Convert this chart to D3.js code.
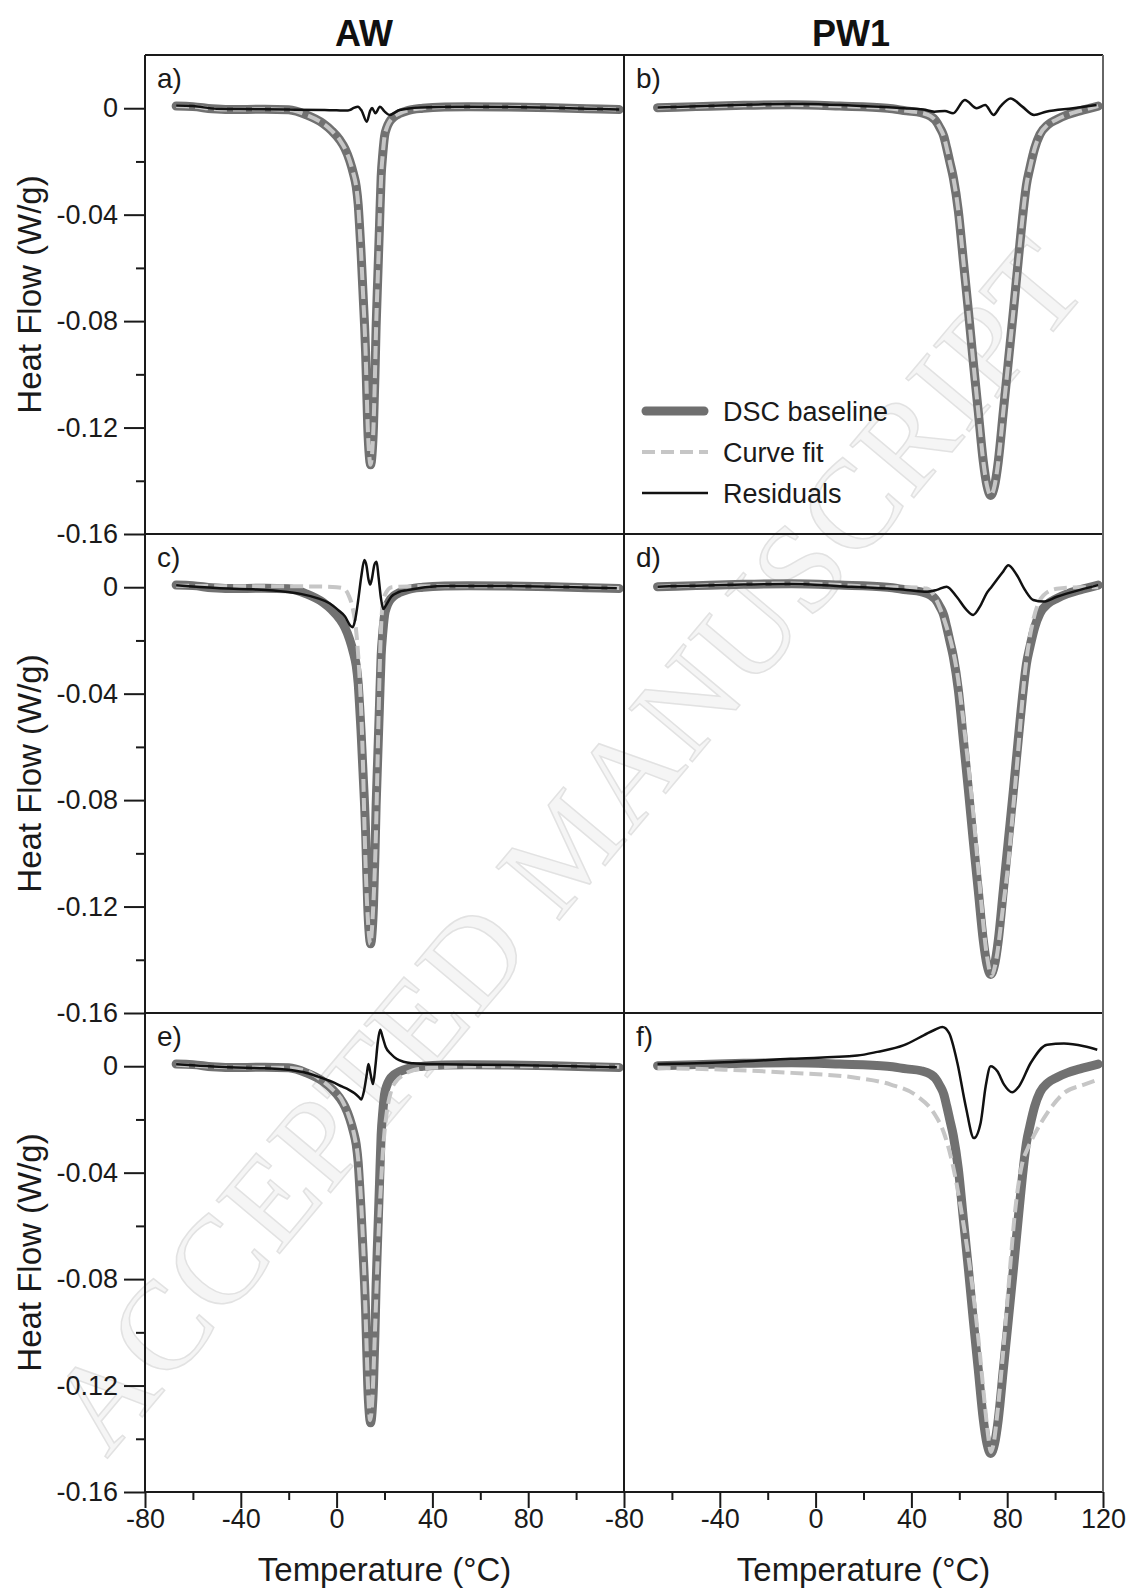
<!DOCTYPE html>
<html>
<head>
<meta charset="utf-8">
<script src="https://cdn.jsdelivr.net/npm/d3@7"></script>
<style>
body { margin: 0; background: #fff; }
svg { display: block; font-family: "Liberation Sans", Arial, sans-serif; }
.tick line { stroke: #1a1a1a; stroke-width: 2; }
.tick text { font-size: 27px; fill: #1a1a1a; }
</style>
</head>
<body>
<div id="chart"></div>
<script>
// ---- AW (left column) ----
// DSC baseline, the same measurement in a), c) and e)
var awTemp = [-67, -60, -52, -45, -30, -20, -12.6, -5.7, -2, 1.3, 3.5, 5.4, 7, 8.2, 9, 9.6, 10.2, 10.7, 11.2, 11.7,
    12.1, 12.4, 13.0, 13.6, 14.2, 14.8, 15.4, 16.0, 16.5, 17.2, 17.9, 18.6, 19.3, 20.0, 21, 22.1, 24, 26.3, 30, 36,
    45, 55, 70, 90, 110, 118];
var awBaseline = [0.0008, 0.0006, -0.0002, -0.0005, -0.0004, -0.0006, -0.0025, -0.0057, -0.0085, -0.0119,
    -0.0152, -0.0195, -0.0245, -0.0295, -0.0360, -0.0445, -0.0540, -0.0633, -0.0727, -0.0821,
    -0.0915, -0.1009, -0.1197, -0.1300, -0.1340, -0.1300, -0.1197, -0.1009, -0.0821, -0.0633,
    -0.0445, -0.0257, -0.0170, -0.0107, -0.0072, -0.0051, -0.0032, -0.0020, -0.0008, 0.0000,
    0.0005, 0.0006, 0.0005, 0.0002, -0.0003, -0.0005];

// a) the fit lies right on the baseline
var fitA = awBaseline.slice();
var resATemp = [-67, -60, -50, -40, -20, -5, 0, 4, 5.4, 7, 8.9, 10.5, 12.6, 14.0, 14.8, 16.2, 18.1, 20, 22.1, 26.3,
    35, 50, 70, 90, 110, 118];
var resA = [0.0010, 0.0008, -0.0002, -0.0003, -0.0005, -0.0007, -0.0008, -0.0009, -0.0007, 0.0000,
    0.0006, -0.0010, -0.0051, -0.0010, 0.0001, -0.0019, 0.0006, -0.0012, -0.0025, -0.0007,
    0.0003, 0.0006, 0.0005, 0.0002, -0.0003, -0.0005];

// c)
var fitCTemp = [-67, -50, -30, -10, 0, 3, 5, 6.5, 8, 9.2, 10.2, 11.0, 11.7, 12.4, 13.2, 14.1, 14.8, 15.4, 16.0, 16.5,
    17.0, 17.6, 18.2, 18.8, 19.5, 21, 23, 30, 60, 90, 118];
var fitC = [0.0006, 0.0004, 0.0004, 0.0003, 0.0000, -0.0005, -0.0030, -0.0070, -0.0150, -0.0280,
    -0.0450, -0.0660, -0.0920, -0.1120, -0.1270, -0.1340, -0.1280, -0.1180, -0.1050, -0.0900,
    -0.0700, -0.0450, -0.0240, -0.0110, -0.0050, -0.0015, 0.0000, 0.0003, 0.0004, 0.0002, -0.0003];
var resCTemp = [-67, -50, -35, -21.4, -15, -7.8, -3, 0.7, 3.5, 5.8, 6.8, 7.8, 9.0, 10.3, 11.6, 12.5, 13.3, 14.0, 14.7,
    15.8, 16.7, 17.5, 18.5, 19.5, 20.5, 22.8, 26, 29.6, 37, 46.7, 70, 90, 117];
var resC = [0.0007, -0.0003, -0.0008, -0.0017, -0.0025, -0.0042, -0.0060, -0.0086, -0.0110, -0.0145,
    -0.0150, -0.0120, -0.0050, 0.0040, 0.0102, 0.0080, 0.0030, 0.0010, 0.0030, 0.0085,
    0.0096, 0.0040, -0.0040, -0.0082, -0.0070, -0.0036, -0.0018, -0.0011, 0.0000, 0.0005,
    0.0005, 0.0002, -0.0004];

// e)
var fitETemp = [-67, -45, -21, -12, -6, -2, 2.4, 5, 7.5, 9, 10.3, 11.3, 12.2, 13.0, 14.0, 15.0, 15.8, 16.5, 17.3, 18.2,
    19.5, 21, 22.8, 25, 27.9, 32, 38, 60, 90, 118];
var fitE = [0.0006, -0.0004, -0.0006, -0.0020, -0.0055, -0.0085, -0.0130, -0.0185, -0.0265, -0.0350,
    -0.0520, -0.0720, -0.0960, -0.1180, -0.1330, -0.1240, -0.1050, -0.0880, -0.0680, -0.0500,
    -0.0300, -0.0170, -0.0092, -0.0055, -0.0033, -0.0015, -0.0007, 0.0000, 0.0000, -0.0002];
var resETemp = [-67, -45, -30, -21.4, -14, -7.8, -2, 2.4, 5, 7.5, 9.3, 10.3, 11.5, 12.6, 13.3, 14.2, 15.2, 16.2, 17.2,
    18.2, 19.2, 20.5, 22.8, 25, 27.9, 32, 38.2, 60, 90, 117];
var resE = [0.0007, -0.0004, -0.0008, -0.0012, -0.0022, -0.0039, -0.0058, -0.0077, -0.0088, -0.0102,
    -0.0116, -0.0125, -0.0090, -0.0030, 0.0008, -0.0030, -0.0067, 0.0000, 0.0090, 0.0137,
    0.0110, 0.0072, 0.0045, 0.0028, 0.0017, 0.0011, 0.0008, 0.0006, 0.0002, -0.0004];

// ---- PW1 (right column) ----
var pwTemp = [-66, -50, -30, -10, 10, 30, 38, 44, 48, 50, 52, 53.5, 54.7, 56, 57.5, 59.6, 61.7, 63.8, 65.8, 67.9,
    70.0, 71.6, 73.1, 74.7, 76.3, 78.4, 80.5, 82.6, 84.6, 86.7, 88, 89.5, 91.5, 93.7, 97, 100.7, 105, 110.4, 118];
var pwBaseline = [0.0002, 0.0006, 0.0011, 0.0013, 0.0008, 0.0000, -0.0010, -0.0017, -0.0030, -0.0045,
    -0.0075, -0.0105, -0.0148, -0.0200, -0.0261, -0.0386, -0.0574, -0.0762, -0.0950, -0.1138,
    -0.1326, -0.1420, -0.1455, -0.1420, -0.1326, -0.1138, -0.0950, -0.0762, -0.0574, -0.0386,
    -0.0290, -0.0224, -0.0150, -0.0098, -0.0062, -0.0042, -0.0025, -0.0010, 0.0008];

// b)
var fitB = pwBaseline.slice();
var resBTemp = [-66, -40, -20, -5.4, 15, 36.9, 45, 49.6, 54, 57.4, 62.3, 67.3, 70.8, 74.3, 77.1, 81.4, 86.3, 91.2,
    96.2, 107.5, 117.3];
var resB = [0.0003, 0.0010, 0.0015, 0.0016, 0.0010, 0.0000, -0.0005, -0.0013, -0.0010, -0.0019,
    0.0031, 0.0000, 0.0012, -0.0025, 0.0006, 0.0037, 0.0006, -0.0025, -0.0013, 0.0000, 0.0012];

// d)
var fitDTemp = [-66, -50, -30, -10, 10, 30, 38, 46.4, 50, 52, 54.7, 56.9, 58.9, 61, 63.1, 65.8, 68.6, 71.4, 73.5, 75.6,
    78, 80.5, 82.3, 84, 85.8, 87.4, 89.2, 90.9, 95.1, 100.7, 110.4, 118];
var fitD = [0.0002, 0.0006, 0.0012, 0.0014, 0.0008, 0.0000, 0.0000, -0.0005, -0.0040, -0.0080,
    -0.0150, -0.0220, -0.0310, -0.0450, -0.0614, -0.0846, -0.1127, -0.1377, -0.1460, -0.1390,
    -0.1220, -0.1033, -0.0850, -0.0676, -0.0480, -0.0320, -0.0200, -0.0122, -0.0031, -0.0006,
    0.0000, 0.0000];
var resDTemp = [-66, -50, -30, -10, 10, 30, 38, 46.4, 50.6, 54.7, 58.9, 63.1, 65.8, 68.6, 71.4, 73.5, 75.6, 78, 80.5,
    84, 87.4, 90.9, 95.1, 100.7, 110.4, 118];
var resD = [0.0002, 0.0006, 0.0010, 0.0012, 0.0004, -0.0005, -0.0010, -0.0017, -0.0010, 0.0002,
    -0.0036, -0.0086, -0.0104, -0.0073, -0.0023, 0.0002, 0.0027, 0.0055, 0.0083, 0.0046,
    -0.0010, -0.0048, -0.0054, -0.0036, -0.0010, 0.0008];

// f)
var fitFTemp = [-66, -38, -10, 17.4, 31.4, 42.5, 49.4, 53.6, 57.1, 61.0, 65.1, 68.3, 71.0, 72.2, 73.2, 74.3, 75.9,
    78.5, 80.8, 83.2, 86.3, 88.5, 91.2, 96.7, 103.7, 112.1, 117.6];
var fitF = [-0.0007, -0.0013, -0.0025, -0.0044, -0.0069, -0.0113, -0.0176, -0.0251, -0.0364, -0.0552,
    -0.0802, -0.1053, -0.1303, -0.1400, -0.1450, -0.1420, -0.1303, -0.1053, -0.0802, -0.0552,
    -0.0364, -0.0310, -0.0260, -0.0176, -0.0101, -0.0069, -0.0051];
var resFTemp = [-66, -38.2, -10.4, 17.4, 25.8, 36.9, 45.3, 50, 52.9, 55.7, 59.2, 62.7, 66.1, 68.9, 71, 73.1, 75.9,
    78.7, 82.1, 84.9, 89.8, 96.7, 103.7, 112.1, 117.6];
var resF = [0.0008, 0.0015, 0.0028, 0.0040, 0.0054, 0.0079, 0.0117, 0.0138, 0.0147, 0.0125,
    0.0012, -0.0151, -0.0270, -0.0213, -0.0076, 0.0000, -0.0019, -0.0069, -0.0098, -0.0076,
    0.0012, 0.0081, 0.0085, 0.0075, 0.0062];

// axis ticks
var yMajor = [0, -0.04, -0.08, -0.12, -0.16];
var yMinor = [-0.02, -0.06, -0.10, -0.14];
var xMajorLeft = [-80, -40, 0, 40, 80];
var xMajorRight = [-80, -40, 0, 40, 80, 120];
var xMinor = [-60, -20, 20, 60, 100];
var columnTitles = ["AW", "PW1"];
var legendNames = ["DSC baseline", "Curve fit", "Residuals"];

var width = 1130,
    height = 1589;
var colLeft = [145, 624],
    colWidth = 479;
var rowTop = [55, 534, 1013],
    rowHeight = 479;

var svg = d3.select("#chart").append("svg")
    .attr("width", width)
    .attr("height", height);

// faint watermark of the source page
svg.append("text")
    .attr("transform", "translate(566,846) rotate(-50)")
    .attr("text-anchor", "middle")
    .attr("dominant-baseline", "central")
    .attr("textLength", 1530)
    .style("font-family", "'Liberation Serif', 'DejaVu Serif', serif")
    .style("font-size", "126px")
    .style("fill", "#f5f5f5")
    .style("stroke", "#e2e2e2")
    .style("stroke-width", 1.5)
    .text("ACCEPTED MANUSCRIPT");

function zip(t, v) {
    return t.map(function (d, i) { return [d, v[i]]; });
}

var panels = [
    { label: "a)", col: 0, row: 0, base: zip(awTemp, awBaseline), fit: zip(awTemp, fitA), res: zip(resATemp, resA) },
    { label: "b)", col: 1, row: 0, base: zip(pwTemp, pwBaseline), fit: zip(pwTemp, fitB), res: zip(resBTemp, resB) },
    { label: "c)", col: 0, row: 1, base: zip(awTemp, awBaseline), fit: zip(fitCTemp, fitC), res: zip(resCTemp, resC) },
    { label: "d)", col: 1, row: 1, base: zip(pwTemp, pwBaseline), fit: zip(fitDTemp, fitD), res: zip(resDTemp, resD) },
    { label: "e)", col: 0, row: 2, base: zip(awTemp, awBaseline), fit: zip(fitETemp, fitE), res: zip(resETemp, resE) },
    { label: "f)", col: 1, row: 2, base: zip(pwTemp, pwBaseline), fit: zip(fitFTemp, fitF), res: zip(resFTemp, resF) }
];

panels.forEach(function (p) {
    var x = d3.scaleLinear().domain([-80, 120]).range([colLeft[p.col], colLeft[p.col] + colWidth]);
    var y = d3.scaleLinear().domain([-0.16, 0.02]).range([rowTop[p.row] + rowHeight, rowTop[p.row]]);

    var line = d3.line()
        .x(function (d) { return x(d[0]); })
        .y(function (d) { return y(d[1]); })
        .curve(d3.curveMonotoneX);

    var g = svg.append("g");

    g.append("path")
        .datum(p.base)
        .attr("d", line)
        .attr("fill", "none")
        .attr("stroke", "#717171")
        .attr("stroke-width", 9)
        .attr("stroke-linecap", "round")
        .attr("stroke-linejoin", "round");

    g.append("path")
        .datum(p.fit)
        .attr("d", line)
        .attr("fill", "none")
        .attr("stroke", "#c6c6c6")
        .attr("stroke-width", 4)
        .attr("stroke-dasharray", "13,6");

    g.append("path")
        .datum(p.res)
        .attr("d", line)
        .attr("fill", "none")
        .attr("stroke", "#111")
        .attr("stroke-width", 2.5)
        .attr("stroke-linejoin", "round");

    g.append("text")
        .attr("x", colLeft[p.col] + 12)
        .attr("y", rowTop[p.row] + 33)
        .style("font-size", "28px")
        .style("fill", "#1a1a1a")
        .text(p.label);

    // y axis only on the left column
    if (p.col === 0) {
        svg.append("g")
            .attr("transform", "translate(" + colLeft[0] + ",0)")
            .call(d3.axisLeft(y).tickValues(yMajor).tickSize(21).tickPadding(6)
                .tickFormat(function (d) { return d === 0 ? "0" : d.toFixed(2); }))
            .call(function (s) { s.select(".domain").remove(); });
        svg.append("g")
            .attr("transform", "translate(" + colLeft[0] + ",0)")
            .call(d3.axisLeft(y).tickValues(yMinor).tickSize(9).tickFormat(""))
            .call(function (s) { s.select(".domain").remove(); });

        svg.append("text")
            .attr("transform", "translate(41," + (rowTop[p.row] + rowHeight / 2) + ") rotate(-90)")
            .attr("text-anchor", "middle")
            .style("font-size", "33px")
            .style("fill", "#1a1a1a")
            .text("Heat Flow (W/g)");
    }

    // x axis only on the bottom row
    if (p.row === 2) {
        var bottom = rowTop[2] + rowHeight;
        svg.append("g")
            .attr("transform", "translate(0," + bottom + ")")
            .call(d3.axisBottom(x).tickValues(p.col === 0 ? xMajorLeft : xMajorRight).tickSize(16).tickPadding(1)
                .tickFormat(function (d) { return String(d); }))
            .call(function (s) { s.select(".domain").remove(); });
        svg.append("g")
            .attr("transform", "translate(0," + bottom + ")")
            .call(d3.axisBottom(x).tickValues(xMinor).tickSize(8).tickFormat(""))
            .call(function (s) { s.select(".domain").remove(); });

        svg.append("text")
            .attr("x", colLeft[p.col] + colWidth / 2)
            .attr("y", 1581)
            .attr("text-anchor", "middle")
            .style("font-size", "33px")
            .style("fill", "#1a1a1a")
            .text("Temperature (\u00B0C)");
    }
});

// panel frame
var right = colLeft[1] + colWidth;
var frame = svg.append("g").attr("stroke", "#1a1a1a").attr("stroke-width", 2);
[rowTop[0], rowTop[1], rowTop[2], rowTop[2] + rowHeight].forEach(function (yy) {
    frame.append("line").attr("x1", colLeft[0]).attr("x2", right).attr("y1", yy).attr("y2", yy);
});
[colLeft[0], colLeft[1]].forEach(function (xx) {
    frame.append("line").attr("x1", xx).attr("x2", xx).attr("y1", rowTop[0]).attr("y2", rowTop[2] + rowHeight);
});
frame.append("line").attr("x1", right).attr("x2", right)
    .attr("y1", rowTop[0]).attr("y2", rowTop[2] + rowHeight).attr("stroke", "#666");

// column titles
svg.selectAll(".coltitle")
    .data(columnTitles)
    .enter()
    .append("text")
    .attr("class", "coltitle")
    .attr("x", function (d, i) { return i === 0 ? 364 : 851; })
    .attr("y", 46)
    .attr("text-anchor", "middle")
    .style("font-size", "36px")
    .style("font-weight", "bold")
    .style("fill", "#111")
    .text(function (d) { return d; });

// legend in panel b)
var legend = svg.append("g").attr("transform", "translate(642,411)");
var legendStyles = [
    { stroke: "#6f6f6f", width: 9, dash: null, cap: "round" },
    { stroke: "#c6c6c6", width: 4, dash: "13,6", cap: "butt" },
    { stroke: "#111", width: 2.5, dash: null, cap: "butt" }
];
legendNames.forEach(function (name, i) {
    var s = legendStyles[i];
    legend.append("line")
        .attr("x1", i === 0 ? 4 : 0).attr("x2", i === 0 ? 62 : 66)
        .attr("y1", i * 41).attr("y2", i * 41)
        .attr("stroke", s.stroke)
        .attr("stroke-width", s.width)
        .attr("stroke-linecap", s.cap)
        .attr("stroke-dasharray", s.dash);
    legend.append("text")
        .attr("x", 81)
        .attr("y", i * 41 + 10)
        .style("font-size", "27px")
        .style("fill", "#1a1a1a")
        .text(name);
});
</script>
</body>
</html>
